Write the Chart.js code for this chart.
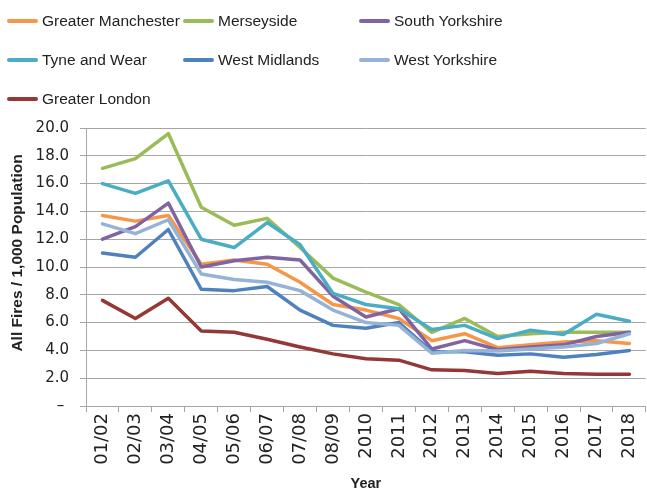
<!DOCTYPE html>
<html>
<head>
<meta charset="utf-8">
<script src="https://cdn.jsdelivr.net/npm/chart.js@4/dist/chart.umd.min.js"></script>
<style>
  html, body { margin: 0; padding: 0; background: #fff; overflow: hidden; }
  #wrap { position: relative; width: 652px; height: 494px; }
  #legend {
    position: absolute; left: 7px; top: 1px;
    display: grid; grid-template-columns: 176px 176px 176px; grid-auto-rows: 39px;
    font-family: "Liberation Sans", sans-serif; font-size: 15.5px; color: #222;
  }
  #legend .item { display: flex; align-items: center; white-space: nowrap; }
  #legend .sw { flex: 0 0 31px; height: 4px; margin-right: 4px; border-radius: 2px; }
</style>
</head>
<body>
<div id="wrap">
  <canvas id="fireChart" width="652" height="494"></canvas>
  <div id="legend"></div>
</div>
<script>
const years = ['01/02', '02/03', '03/04', '04/05', '05/06', '06/07', '07/08', '08/09', '2010', '2011', '2012', '2013', '2014', '2015', '2016', '2017', '2018'];

const greaterManchester = [13.7, 13.3, 13.7, 10.2, 10.5, 10.2, 8.9, 7.3, 6.9, 6.3, 4.7, 5.2, 4.2, 4.4, 4.6, 4.7, 4.5];
const merseyside = [17.1, 17.8, 19.6, 14.3, 13.0, 13.5, 11.4, 9.2, 8.2, 7.3, 5.3, 6.3, 5.0, 5.2, 5.3, 5.3, 5.3];
const southYorkshire = [12.0, 12.9, 14.6, 10.0, 10.45, 10.7, 10.5, 7.9, 6.4, 7.0, 4.1, 4.7, 4.05, 4.25, 4.4, 5.0, 5.3];
const tyneAndWear = [16.0, 15.3, 16.2, 12.0, 11.4, 13.2, 11.6, 8.1, 7.3, 7.0, 5.5, 5.8, 4.85, 5.45, 5.15, 6.6, 6.1];
const westMidlands = [11.0, 10.7, 12.7, 8.4, 8.3, 8.6, 6.9, 5.8, 5.6, 6.0, 3.9, 3.9, 3.65, 3.75, 3.5, 3.7, 4.0];
const westYorkshire = [13.1, 12.4, 13.4, 9.5, 9.1, 8.9, 8.3, 6.9, 6.0, 5.8, 3.8, 4.0, 3.95, 4.1, 4.25, 4.5, 5.2];
const greaterLondon = [7.6, 6.3, 7.75, 5.4, 5.3, 4.8, 4.25, 3.75, 3.4, 3.3, 2.6, 2.55, 2.33, 2.5, 2.33, 2.28, 2.28];

const seriesNames = ['Greater Manchester', 'Merseyside', 'South Yorkshire', 'Tyne and Wear', 'West Midlands', 'West Yorkshire', 'Greater London'];
const seriesData = [greaterManchester, merseyside, southYorkshire, tyneAndWear, westMidlands, westYorkshire, greaterLondon];
const seriesColors = ['#F79646', '#9BBB59', '#8064A2', '#4BACC6', '#4F81BD', '#95B3D7', '#953735'];

const yTicks = [0, 2, 4, 6, 8, 10, 12, 14, 16, 18, 20];
const yTitle = 'All Fires / 1,000 Population';

const gridGrey = '#a6a6a6';

// legend (html, 3 columns like the excel one)
const legendBox = document.getElementById('legend');
seriesNames.forEach((name, i) => {
    const item = document.createElement('div');
    item.className = 'item';
    item.innerHTML = '<span class="sw" style="background:' + seriesColors[i] + '"></span><span>' + name + '</span>';
    legendBox.appendChild(item);
});

// y title drawn by hand, excel puts it a bit higher than the axis middle
const yTitlePlugin = {
    id: 'yTitle',
    afterDraw(chart) {
        const c = chart.ctx;
        c.save();
        c.translate(18, 253);
        c.rotate(-Math.PI / 2);
        c.font = 'bold 15.5px "Liberation Sans"';
        c.fillStyle = '#222';
        c.textAlign = 'center';
        c.textBaseline = 'middle';
        c.fillText(yTitle, 0, 0);
        c.restore();
    }
};

const ctx = document.getElementById('fireChart');
new Chart(ctx, {
    type: 'line',
    data: {
        labels: years,
        datasets: seriesNames.map((name, i) => ({
            label: name,
            data: seriesData[i],
            borderColor: seriesColors[i],
            backgroundColor: seriesColors[i],
            borderWidth: 3.5,
            borderJoinStyle: 'round',
            borderCapStyle: 'round',
            pointRadius: 0,
            tension: 0,
            order: seriesNames.length - i
        }))
    },
    plugins: [yTitlePlugin],
    options: {
        responsive: false,
        animation: false,
        layout: { padding: { top: 128, right: 0, left: 0, bottom: 0 } },
        plugins: {
            legend: { display: false },
            tooltip: { enabled: false }
        },
        scales: {
            x: {
                offset: true,
                grid: { display: true, drawOnChartArea: false, drawTicks: true, tickLength: 6, color: gridGrey, offset: true },
                border: { color: gridGrey },
                ticks: {
                    minRotation: 90, maxRotation: 90, autoSkip: false, padding: 1,
                    color: '#222', font: { family: 'DejaVu Sans', size: 18 }
                },
                title: {
                    display: true, text: 'Year', color: '#222', padding: { top: 0, bottom: 1 },
                    font: { family: 'Liberation Sans', size: 14.5, weight: 'bold' }
                },
                afterFit: (scale) => { scale.height = 88; }
            },
            y: {
                min: 0, max: 20,
                afterBuildTicks: (scale) => { scale.ticks = yTicks.map(v => ({ value: v })); },
                grid: { color: gridGrey, tickLength: 6 },
                border: { color: gridGrey },
                ticks: {
                    padding: 11, color: '#222', font: { family: 'DejaVu Sans', size: 15 },
                    callback: (v) => v === 0 ? '– ' : v.toFixed(1)
                },
                afterFit: (scale) => { scale.width = 86; }
            }
        }
    }
});
</script>
</body>
</html>
